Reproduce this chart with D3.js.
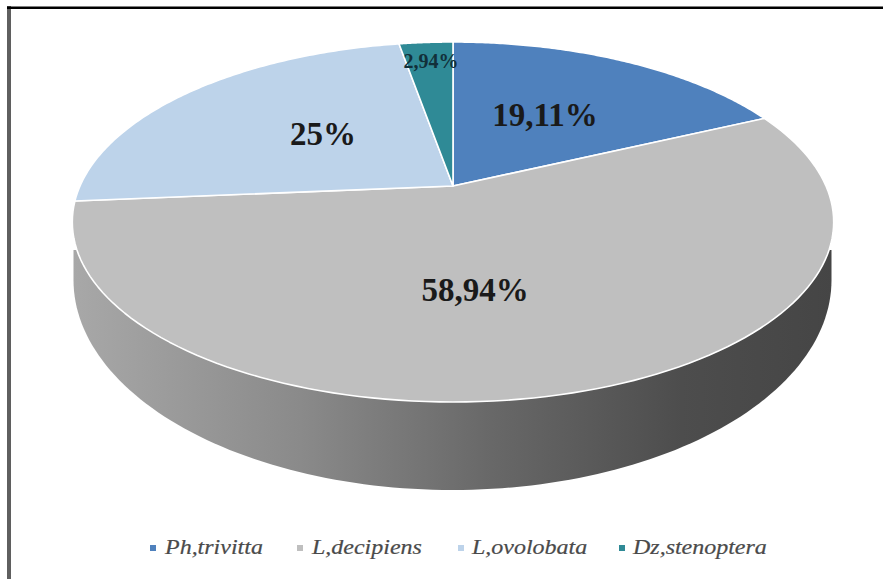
<!DOCTYPE html>
<html><head><meta charset="utf-8">
<script src="https://cdn.jsdelivr.net/npm/d3@7"></script>
<style>html,body{margin:0;background:#fff}svg{display:block}</style></head>
<body><svg id="c" width="883" height="579"></svg>
<script>
const categories = ["Ph,trivitta","L,decipiens","L,ovolobata","Dz,stenoptera"];
const seriesValues = [19.11,58.94,25,2.94];
const valueLabels = ["19,11%","58,94%","25%","2,94%"];
const sliceColors = ["#4f81bd","#bfbfbf","#bdd3ea","#2f8a96"];

const svg = d3.select("#c");
// frame
svg.append("rect").attr("x",7).attr("y",6).attr("width",4).attr("height",573).attr("fill","#5f5f5f");
svg.append("rect").attr("x",7).attr("y",6.5).attr("width",876).attr("height",2.5).attr("fill","#000");

// perspective disc: maps unit-circle coordinates to the screen
const cx=453, apexY=186, A=373, B=135.6, K=-0.2;
const proj=(a,r=1)=>{const u=r*Math.sin(a),v=-r*Math.cos(a),d=1+K*v;
  return [cx+A*u/d,(B*v+apexY)/d];};
const line=d3.line();
const arcPts=(a0,a1)=>d3.range(0,121).map(i=>proj(a0+(a1-a0)*i/120));

const pie=d3.pie().sort(null)(seriesValues);

const defs=svg.append("defs");
const g=defs.append("linearGradient").attr("id","side").attr("gradientUnits","userSpaceOnUse")
 .attr("x1",72).attr("x2",834).attr("y1",0).attr("y2",0);
[[0,"#a8a8a8"],[.3,"#8a8a8a"],[.55,"#686868"],[.8,"#4d4d4d"],[1,"#454545"]]
 .forEach(s=>g.append("stop").attr("offset",s[0]).attr("stop-color",s[1]));

// side wall, drawn underneath the disc
const wallPts=d3.range(0,121).map(i=>{const t=Math.PI*i/120;return [452.5-379*Math.cos(t),280+210*Math.sin(t)];});
svg.append("path").attr("d",line([[73.5,250]].concat(wallPts,[[831.5,250]]))+"Z").attr("fill","url(#side)");

// slices
svg.append("g").selectAll("path").data(pie).join("path")
 .attr("d",d=>line([proj(0,0)].concat(arcPts(d.startAngle,d.endAngle)))+"Z")
 .attr("fill",(d,i)=>sliceColors[i]).attr("stroke","#fff").attr("stroke-width",1.6).attr("stroke-linejoin","round");

// labels
const labelPos=[[545,114,33],[475,289,33],[323,133,33],[431,61,20]];
svg.append("g").selectAll("text").data(valueLabels).join("text")
 .attr("x",(d,i)=>labelPos[i][0]).attr("y",(d,i)=>labelPos[i][1])
 .attr("dy","0.35em").attr("text-anchor","middle")
 .attr("font-family","'Liberation Serif',serif").attr("font-weight","bold")
 .attr("font-size",(d,i)=>labelPos[i][2]).attr("fill",(d,i)=>i==3?"#12303a":"#1a1a1a").text(d=>d);

// legend
const legX=[[150,165],[297,312],[458,472],[619,633]];
const lg=svg.append("g").selectAll("g").data(categories).join("g");
lg.append("rect").attr("x",(d,i)=>legX[i][0]).attr("y",545).attr("width",6).attr("height",6)
 .attr("fill",(d,i)=>sliceColors[i]);
lg.append("text").attr("transform",(d,i)=>`translate(${legX[i][1]},554) scale(1.17,1)`)
 .attr("font-family","'Liberation Serif',serif").attr("font-style","italic")
 .attr("font-size",20.5).attr("fill","#4a4a4a").attr("stroke","#4a4a4a").attr("stroke-width",0.2).text(d=>d);
</script></body></html>
